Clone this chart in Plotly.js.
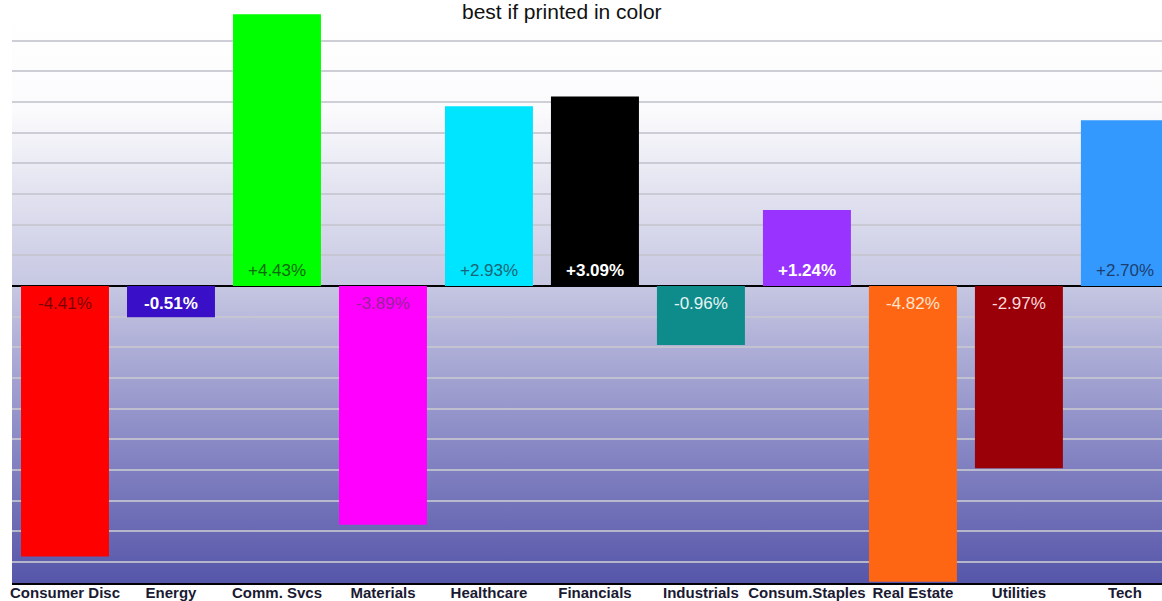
<!DOCTYPE html>
<html>
<head>
<meta charset="utf-8">
<script src="https://cdn.plot.ly/plotly-3.0.1.min.js"></script>
<style>
html,body{margin:0;padding:0;background:#fff;overflow:hidden;}
#chart{width:1162px;height:601px;}
</style>
</head>
<body>
<div id="chart"></div>
<script>
// ---- data ----
var sectors = ["Consumer Disc","Energy","Comm. Svcs","Materials","Healthcare","Financials","Industrials","Consum.Staples","Real Estate","Utilities","Tech"];
var changes = [-4.41, -0.51, 4.43, -3.89, 2.93, 3.09, -0.96, 1.24, -4.82, -2.97, 2.70];
var barColors = ["#ff0000","#3a0fc8","#00ff00","#ff00ff","#00e5ff","#000000","#0e8c8c","#9933ff","#ff6614","#990008","#3399ff"];
var labelColors = ["#7a0000","#ffffff","#0f6a0f","#99209a","#1a6475","#ffffff","#e6f4f4","#ffffff","#ffe2cc","#ffdada","#1c3f70"];
var labelBold = [false,true,false,false,false,true,false,true,false,false,false];

var labels = changes.map(function(v){ return (v > 0 ? "+" : "") + v.toFixed(2) + "%"; });

var trace = {
  type: "bar",
  x: sectors,
  y: changes,
  marker: {color: barColors, line: {width: 0}},
  width: 0.83,
  hoverinfo: "none",
  showlegend: false
};

var annotations = sectors.map(function(s, i){
  var v = changes[i];
  return {
    x: s, y: 0, xref: "x", yref: "y",
    text: labels[i],
    showarrow: false,
    yanchor: "middle",
    yshift: v > 0 ? 16 : -17,
    font: {family: "Liberation Sans, Arial, sans-serif", size: 17, color: labelColors[i], weight: labelBold[i] ? 700 : 400}
  };
});
annotations.push({
  xref: "paper", yref: "paper", x: 0.478, y: 1, yshift: 2,
  xanchor: "center", yanchor: "middle",
  text: "best if printed in color", showarrow: false,
  font: {family: "Liberation Sans, Arial, sans-serif", size: 21, color: "#111111"}
});

var gradSvg = "<svg xmlns='http://www.w3.org/2000/svg' width='100' height='100' preserveAspectRatio='none'>" +
  "<defs><linearGradient id='g' x1='0' y1='0' x2='0' y2='1'>" +
  "<stop offset='0' stop-color='#ffffff'/>" +
  "<stop offset='0.17' stop-color='#fbfbfd'/>" +
  "<stop offset='0.479' stop-color='#c6c7e2'/>" +
  "<stop offset='0.749' stop-color='#8a8ac6'/>" +
  "<stop offset='1' stop-color='#5656aa'/>" +
  "</linearGradient></defs><rect width='100' height='100' fill='url(#g)'/></svg>";

var layout = {
  width: 1162, height: 601,
  margin: {l: 12, r: 0, t: 13, b: 18, pad: 0},
  paper_bgcolor: "#ffffff",
  plot_bgcolor: "rgba(0,0,0,0)",
  bargap: 0.17,
  xaxis: {
    type: "category",
    range: [-0.5, 10.35],
    showgrid: false,
    ticks: "",
    ticklabelstandoff: -5,
    showline: true, linecolor: "#000000", linewidth: 2,
    tickfont: {family: "Liberation Sans, Arial, sans-serif", size: 15, color: "#1a1a33", weight: 700},
    fixedrange: true
  },
  yaxis: {
    range: [-4.841, 4.45],
    tick0: 0, dtick: 0.5,
    showgrid: true, gridcolor: "rgba(198,198,208,0.85)", gridwidth: 2,
    zeroline: true, zerolinecolor: "#000000", zerolinewidth: 1.5,
    showticklabels: false, ticks: "",
    showline: false,
    fixedrange: true
  },
  images: [{
    source: "data:image/svg+xml;charset=utf-8," + encodeURIComponent(gradSvg),
    xref: "paper", yref: "paper", x: 0, y: 1, sizex: 1, sizey: 1,
    xanchor: "left", yanchor: "top", sizing: "stretch", layer: "below"
  }],
  annotations: annotations
};

Plotly.newPlot("chart", [trace], layout, {displayModeBar: false, staticPlot: true});
</script>
</body>
</html>
